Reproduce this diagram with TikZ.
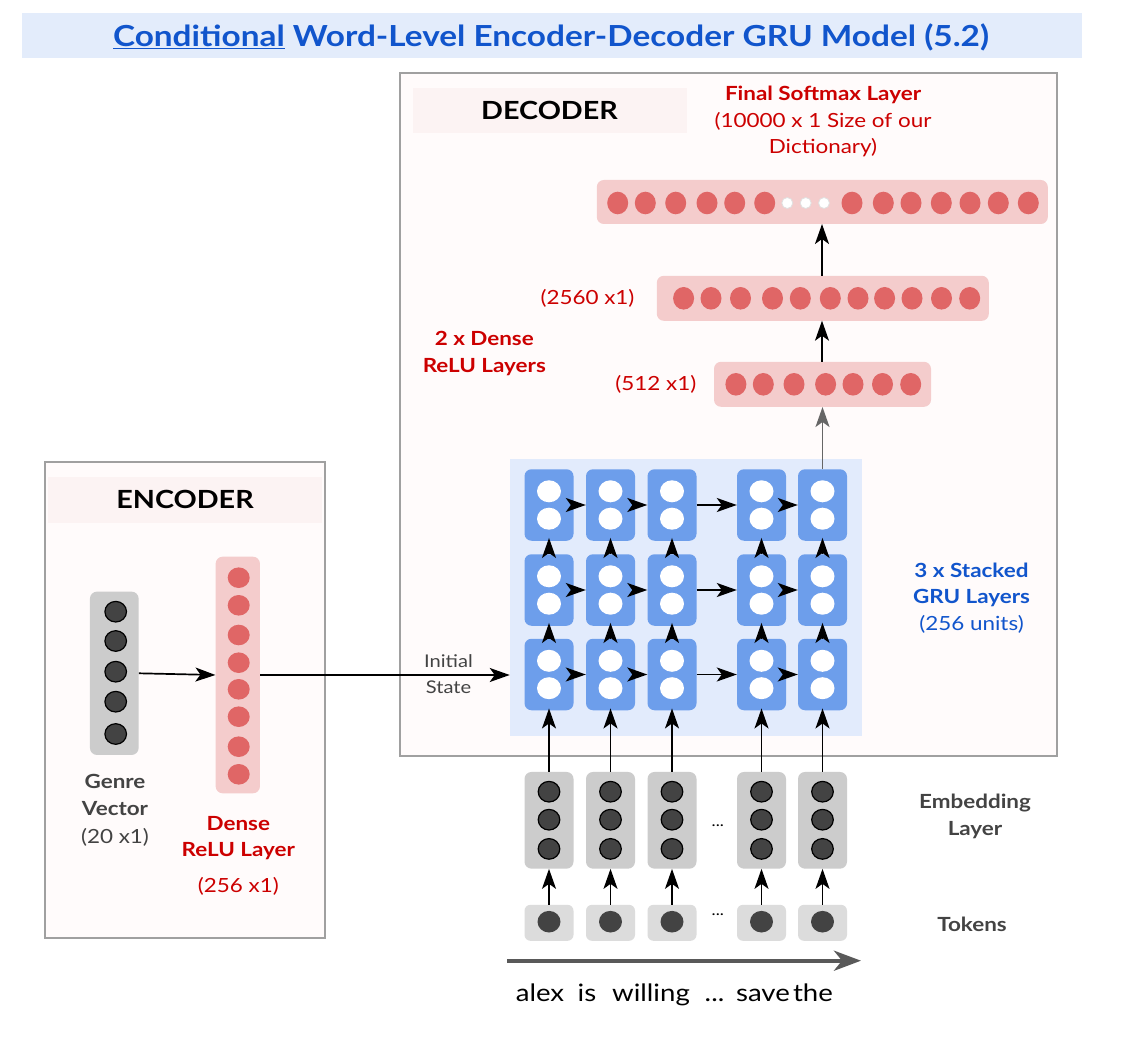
\documentclass[tikz,border=0pt]{standalone}
\usepackage{fontspec}
\setmainfont{Lato}[FakeStretch=1.15]
\usetikzlibrary{arrows.meta,calc}
\definecolor{titlebg}{HTML}{E3ECFB}
\definecolor{titleblue}{HTML}{1155CC}
\definecolor{boxline}{HTML}{A0A0A0}
\definecolor{boxfill}{HTML}{FFFBFB}
\definecolor{bandfill}{HTML}{FCF3F3}
\definecolor{redtext}{HTML}{CC0000}
\definecolor{pinkbar}{HTML}{F4CCCC}
\definecolor{reddot}{HTML}{E06666}
\definecolor{graybar}{HTML}{CCCCCC}
\definecolor{tokbar}{HTML}{DCDCDC}
\definecolor{darkdot}{HTML}{434343}
\definecolor{grubgc}{HTML}{E2EBFC}
\definecolor{grucell}{HTML}{6D9EEB}
\definecolor{labelgray}{HTML}{434343}
\definecolor{longarrow}{HTML}{595959}
\begin{document}
\begin{tikzpicture}[x=1pt,y=-1pt,
  txt/.style={inner sep=0pt, outer sep=0pt, align=center},
  lab/.style={txt, font=\fontsize{19.5}{26.5}\selectfont},
  word/.style={txt, anchor=base, font=\fontsize{24}{30}\selectfont},
  bigbox/.style={draw=boxline, line width=1.5pt, fill=boxfill, inner sep=0pt},
  band/.style={fill=bandfill, inner sep=0pt, font=\fontsize{25}{30}\selectfont\bfseries},
  pbar/.style={fill=pinkbar, rounded corners=7pt, inner sep=0pt},
  gbar/.style={fill=graybar, rounded corners=7pt, inner sep=0pt},
  tbar/.style={fill=tokbar, rounded corners=6pt, inner sep=0pt, minimum width=49pt, minimum height=36pt},
  gru/.style={fill=grucell, rounded corners=7pt, inner sep=0pt, minimum width=49pt, minimum height=71.5pt},
  arr/.style={-{Stealth[length=20pt,width=14pt,inset=5pt]}, line width=1.7pt, black},
  garr/.style={-{Stealth[length=20pt,width=14pt,inset=5pt]}, line width=1.7pt, black!60},
  rdot/.style={fill=reddot},
  ddot/.style={fill=darkdot, draw=black, line width=1.2pt}
]
\useasboundingbox (0,0) rectangle (1130,1056);
\fill[white] (0,0) rectangle (1130,1056);

% title
\node[fill=titlebg, minimum width=1060pt, minimum height=45pt, inner sep=0pt] (titleband) at (552,35.5) {};
\node[txt, text=titleblue, font=\fontsize{29}{34}\selectfont\bfseries] (title) at (551,37)
  {\underline{Conditional} Word-Level Encoder-Decoder GRU Model (5.2)};

% big boxes
\node[bigbox, minimum width=657pt, minimum height=683pt] (decoder) at (728.5,414.5) {};
\node[bigbox, minimum width=280pt, minimum height=476pt] (encoder) at (185,700) {};
\node[band, minimum width=274pt, minimum height=45pt] (decband) at (549.5,110.5) {DECODER};
\node[band, minimum width=274pt, minimum height=46pt] (encband) at (185,499.7) {ENCODER};

% decoder dense layers
\node[pbar, minimum width=451pt, minimum height=44pt] (bsm) at (822.3,202) {};
\foreach \x in {617.7,645.3,675.7,707,734.7,764.7,852,883.3,911,941.3,970,998.3,1028.3}
  \fill[rdot] (\x,203) ellipse [x radius=10.5pt, y radius=11.3pt];
\foreach \x in {787.3,805.7,824}
  \filldraw[fill=white, draw=black!12, line width=0.8pt] (\x,203) circle [radius=5.5pt];
\node[pbar, minimum width=332pt, minimum height=45pt] (b2560) at (822.8,298.3) {};
\foreach \x in {683.6,711,740.5,772.5,800.3,830.3,858,884.6,912,941.5,969.7}
  \fill[rdot] (\x,298.3) ellipse [x radius=10.5pt, y radius=11.3pt];
\node[pbar, minimum width=217pt, minimum height=45pt] (b512) at (822.5,384.3) {};
\foreach \x in {735.9,763.3,794,825.6,853,882.5,910.7}
  \fill[rdot] (\x,384.3) ellipse [x radius=10.5pt, y radius=11.3pt];

\node[lab, text=redtext] (fsmlab) at (823,121.5) {\textbf{Final Softmax Layer}\\(10000 x 1 Size of our\\Dictionary)};
\node[lab, text=redtext] (l2560) at (587.5,298) {(2560 x1)};
\node[lab, text=redtext] (l512) at (655.8,384) {(512 x1)};
\node[lab, text=redtext, font=\fontsize{19.5}{26.7}\selectfont\bfseries] (ldense2) at (484.3,353.3) {2 x Dense\\ReLU Layers};

\draw[arr] (822,276) -- (822,224);
\draw[arr] (822,362) -- (822,320.7);

% GRU block
\node[fill=grubgc, minimum width=351.7pt, minimum height=276.7pt, inner sep=0pt] (grubg) at (685.8,597.3) {};
\foreach \c/\x in {1/549,2/610.5,3/672,4/761.5,5/822.5} {
  \foreach \r/\y in {1/674.5,2/590,3/505} {
    \node[gru] (g\r\c) at (\x,\y) {};
    \fill[white] (\x,\y-13.7) ellipse [x radius=12pt, y radius=11pt];
    \fill[white] (\x,\y+13.7) ellipse [x radius=12pt, y radius=11pt];
  }
}
\foreach \r in {1,2,3} {
  \draw[arr] (g\r1.east) -- (g\r2.west);
  \draw[arr] (g\r2.east) -- (g\r3.west);
  \draw[arr] (g\r3.east) -- (g\r4.west);
  \draw[arr] (g\r4.east) -- (g\r5.west);
}
\foreach \c in {1,2,3,4,5} {
  \draw[arr, shorten >=-3pt] (g1\c.north) -- (g2\c.south);
  \draw[arr, shorten >=-3pt] (g2\c.north) -- (g3\c.south);
}
\draw[garr] (g35.north) -- (g35.north |- b512.south);

\node[lab, text=titleblue] (lgru) at (971.5,598) {\textbf{3 x Stacked}\\\textbf{GRU Layers}\\(256 units)};

% embedding and tokens
\foreach \c/\x in {1/549,2/610.5,3/672,4/761.5,5/822.5} {
  \node[gbar, minimum width=49pt, minimum height=96.7pt] (emb\c) at (\x,820.3) {};
  \foreach \dy in {-28.6,-0.6,28.6}
    \filldraw[ddot] (\x,820.3+\dy) ellipse [x radius=10.8pt, y radius=10.3pt];
  \node[tbar] (tok\c) at (\x,922.8) {};
  \fill[darkdot] (\x,921.7) ellipse [x radius=11.5pt, y radius=10.8pt];
  \draw[arr] (tok\c.north) -- (emb\c.south);
  \draw[arr, shorten >=-2pt] (emb\c.north) -- (g1\c.south);
}
\node[txt, font=\fontsize{15}{18}\selectfont] (edots) at (717.8,826) {...};
\node[txt, font=\fontsize{15}{18}\selectfont] (tdots) at (717.8,915) {...};
\node[lab, text=labelgray, font=\fontsize{19.5}{26.7}\selectfont\bfseries] (lemb) at (975,816.5) {Embedding\\Layer};
\node[lab, text=labelgray, font=\fontsize{19.5}{26.7}\selectfont\bfseries] (ltok) at (972,924) {Tokens};

% time arrow and words
\coordinate (tstart) at (507,960.7);
\coordinate (tend) at (861,960.7);
\draw[line width=4pt, longarrow, -{Stealth[length=27pt,width=20pt,inset=8pt]}] (tstart) -- (tend);
\node[word] (w1) at (540,1001) {alex};
\node[word] (w2) at (587,1001) {is};
\node[word] (w3) at (651,1001) {willing};
\node[word] (w4) at (714.5,1001) {...};
\node[word] (w5) at (763,1001) {save};
\node[word] (w6) at (813,1001) {the};

% encoder contents
\node[gbar, minimum width=48.7pt, minimum height=163.3pt] (genre) at (114.3,673.3) {};
\foreach \y in {611.7,641,671.7,701.7,734}
  \filldraw[ddot] (115.7,\y) ellipse [x radius=10.8pt, y radius=10.3pt];
\node[pbar, minimum width=44.3pt, minimum height=236.6pt] (dense) at (237.8,675) {};
\foreach \y in {577.7,605.3,635,662.7,689.3,716.7,746.7,774.3}
  \fill[rdot] (238.7,\y) ellipse [x radius=11pt, y radius=10.3pt];
\draw[arr] (genre.east) -- (dense.west);
\draw[arr] (dense.east) -- (dense.east -| grubg.west);
\node[lab, text=labelgray, font=\fontsize{17.5}{26}\selectfont] (linit) at (448.5,674) {Initial\\State};

\node[lab, text=labelgray, font=\fontsize{19.5}{26.6}\selectfont\bfseries] (lgenre) at (115,795) {Genre\\Vector};
\node[lab, text=labelgray] (lgsize) at (115,837.7) {(20 x1)};
\node[lab, text=redtext, font=\fontsize{19.5}{26}\selectfont\bfseries] (ldense) at (238.3,838) {Dense\\ReLU Layer};
\node[lab, text=redtext] (ldsize) at (238.3,886.7) {(256 x1)};
\end{tikzpicture}
\end{document}
